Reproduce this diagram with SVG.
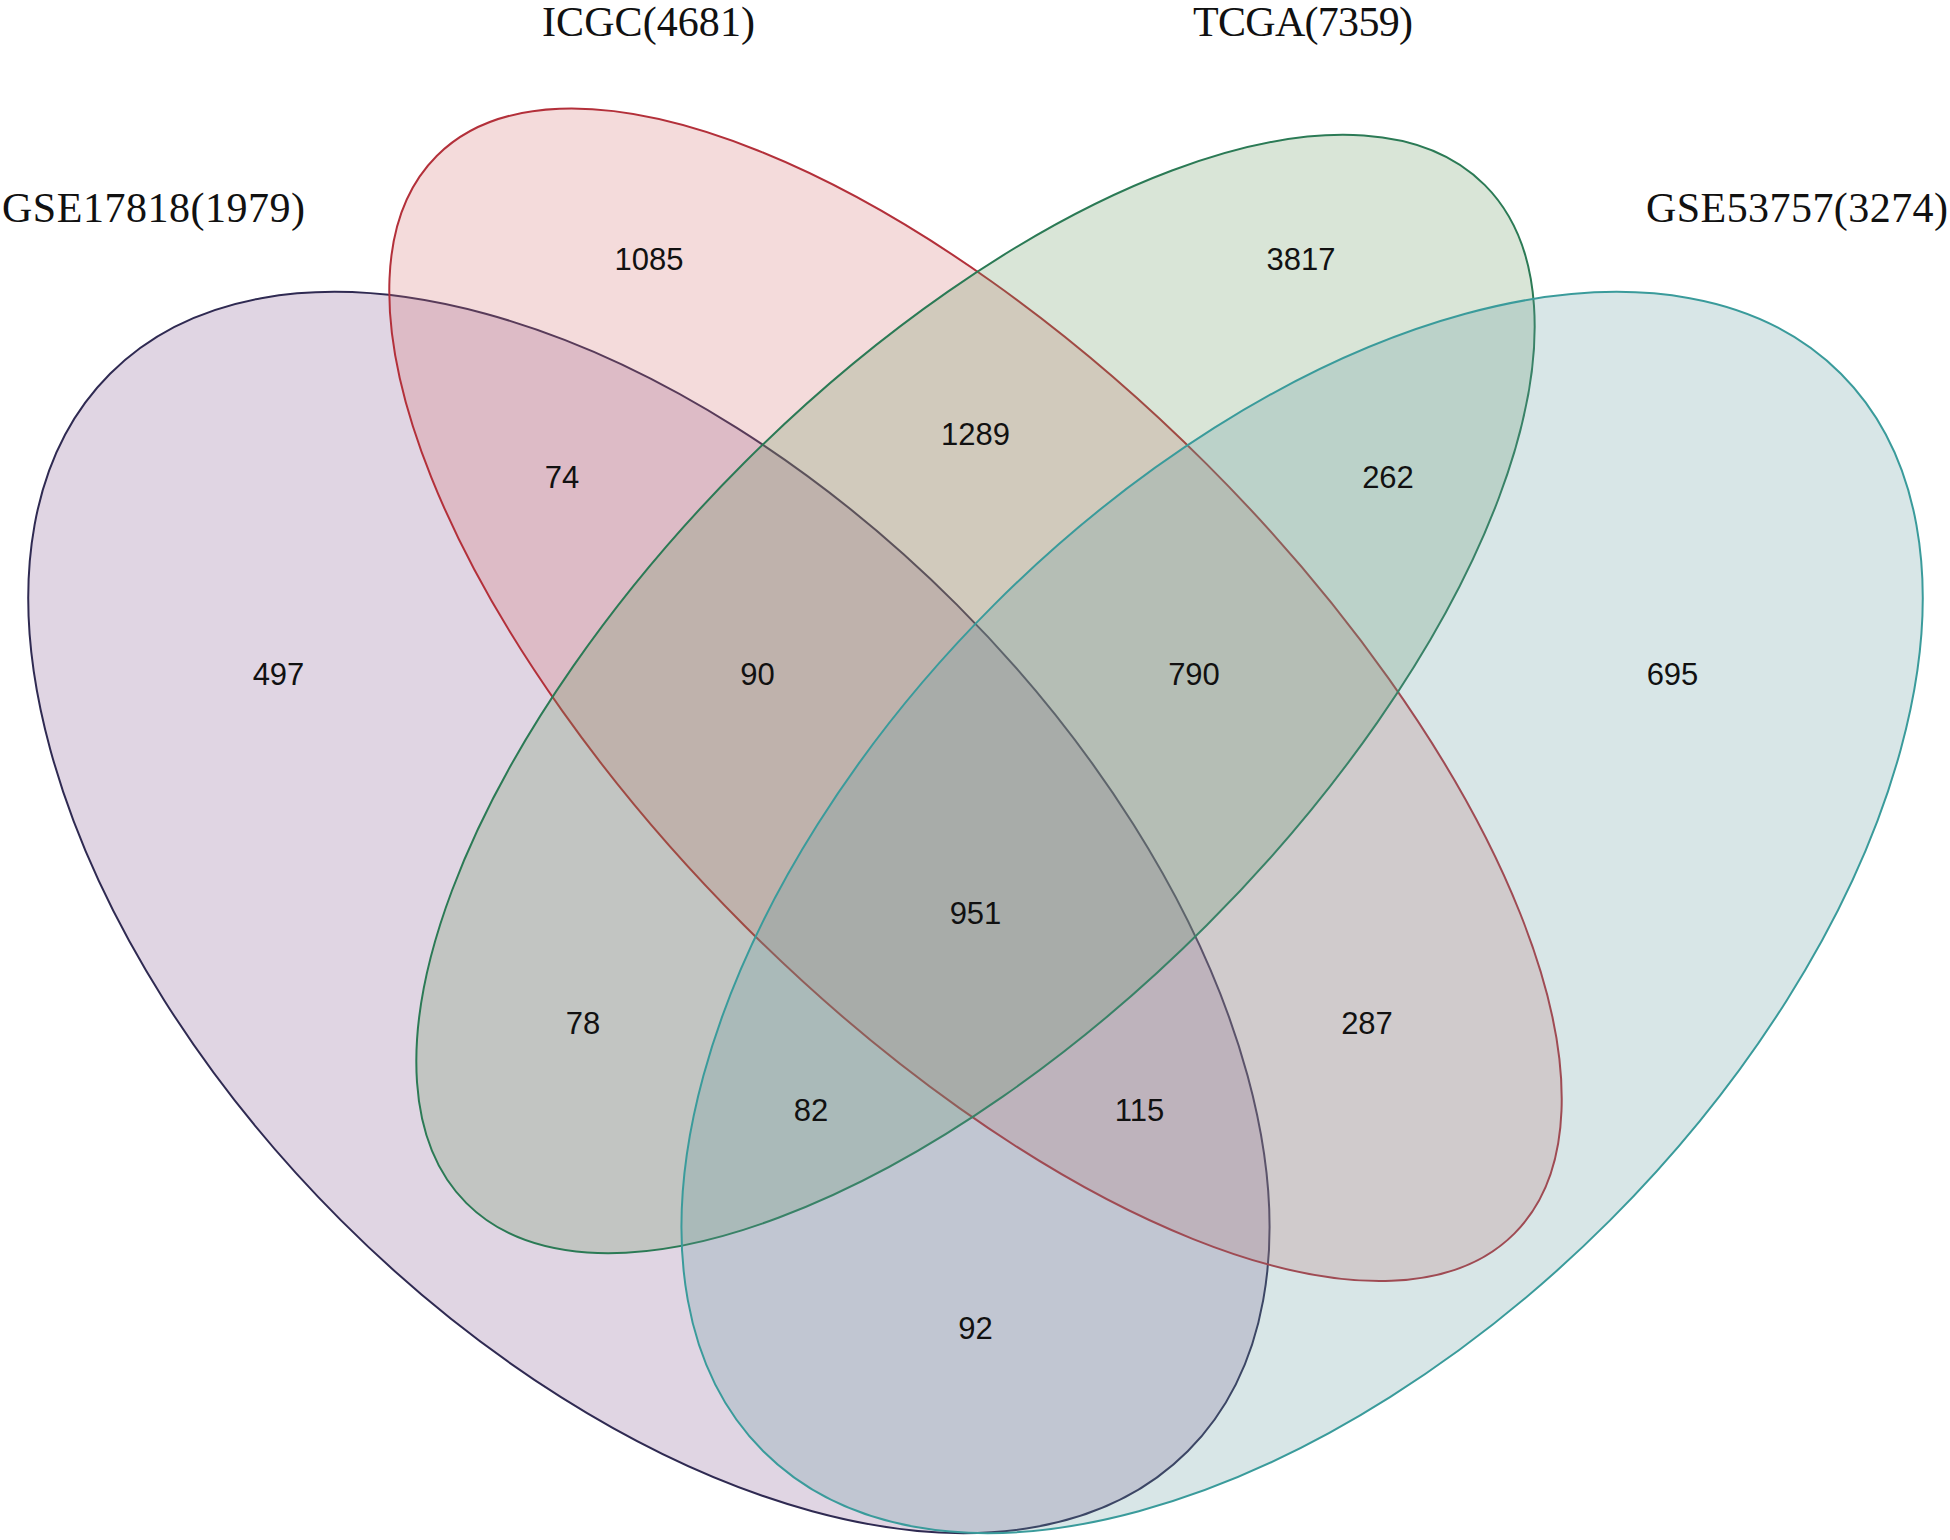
<svg xmlns="http://www.w3.org/2000/svg" width="1950" height="1540" viewBox="0 0 1950 1540">
<style>
.set{stroke-width:2}
.title{font-family:"Liberation Serif","Times New Roman",serif;font-size:42px;fill:#111;text-anchor:middle}
.cnt{font-family:"Liberation Sans",Arial,sans-serif;font-size:31px;fill:#111;text-anchor:middle}
</style>
<rect width="1950" height="1540" fill="#ffffff"/>
<g id="set-GSE17818">
<ellipse class="set" cx="648.9" cy="912.5" rx="762" ry="435.4" transform="rotate(45 648.9 912.5)" fill="rgb(131,87,143)" fill-opacity="0.25" stroke="#2f2a52"/>
<text class="title" x="153.5" y="222" textLength="303" lengthAdjust="spacing">GSE17818(1979)</text>
</g>
<g id="set-ICGC">
<ellipse class="set" cx="975.5" cy="694.8" rx="762" ry="326.6" transform="rotate(45 975.5 694.8)" fill="rgb(210,110,110)" fill-opacity="0.25" stroke="#b3303a"/>
<text class="title" x="648.5" y="36" textLength="213" lengthAdjust="spacing">ICGC(4681)</text>
</g>
<g id="set-TCGA">
<ellipse class="set" cx="975.5" cy="694" rx="720" ry="327" transform="rotate(-45 975.5 694)" fill="rgb(102,150,94)" fill-opacity="0.25" stroke="#2b7a55"/>
<text class="title" x="1303" y="36" textLength="220" lengthAdjust="spacing">TCGA(7359)</text>
</g>
<g id="set-GSE53757">
<ellipse class="set" cx="1302.1" cy="912.5" rx="762" ry="435.4" transform="rotate(-45 1302.1 912.5)" fill="rgb(100,155,158)" fill-opacity="0.25" stroke="#3a9b9b"/>
<text class="title" x="1797" y="222" textLength="302" lengthAdjust="spacing">GSE53757(3274)</text>
</g>
<g id="connectors"></g>
<g id="region-counts">
<text class="cnt" x="649" y="270">1085</text>
<text class="cnt" x="1301" y="270">3817</text>
<text class="cnt" x="562" y="488">74</text>
<text class="cnt" x="975.5" y="445">1289</text>
<text class="cnt" x="1388" y="488">262</text>
<text class="cnt" x="278.5" y="685">497</text>
<text class="cnt" x="757.5" y="685">90</text>
<text class="cnt" x="1194" y="685">790</text>
<text class="cnt" x="1672.5" y="685">695</text>
<text class="cnt" x="975.5" y="924">951</text>
<text class="cnt" x="583" y="1034">78</text>
<text class="cnt" x="1367" y="1034">287</text>
<text class="cnt" x="811" y="1121">82</text>
<text class="cnt" x="1139.5" y="1121">115</text>
<text class="cnt" x="975.5" y="1339">92</text>
</g>
</svg>
